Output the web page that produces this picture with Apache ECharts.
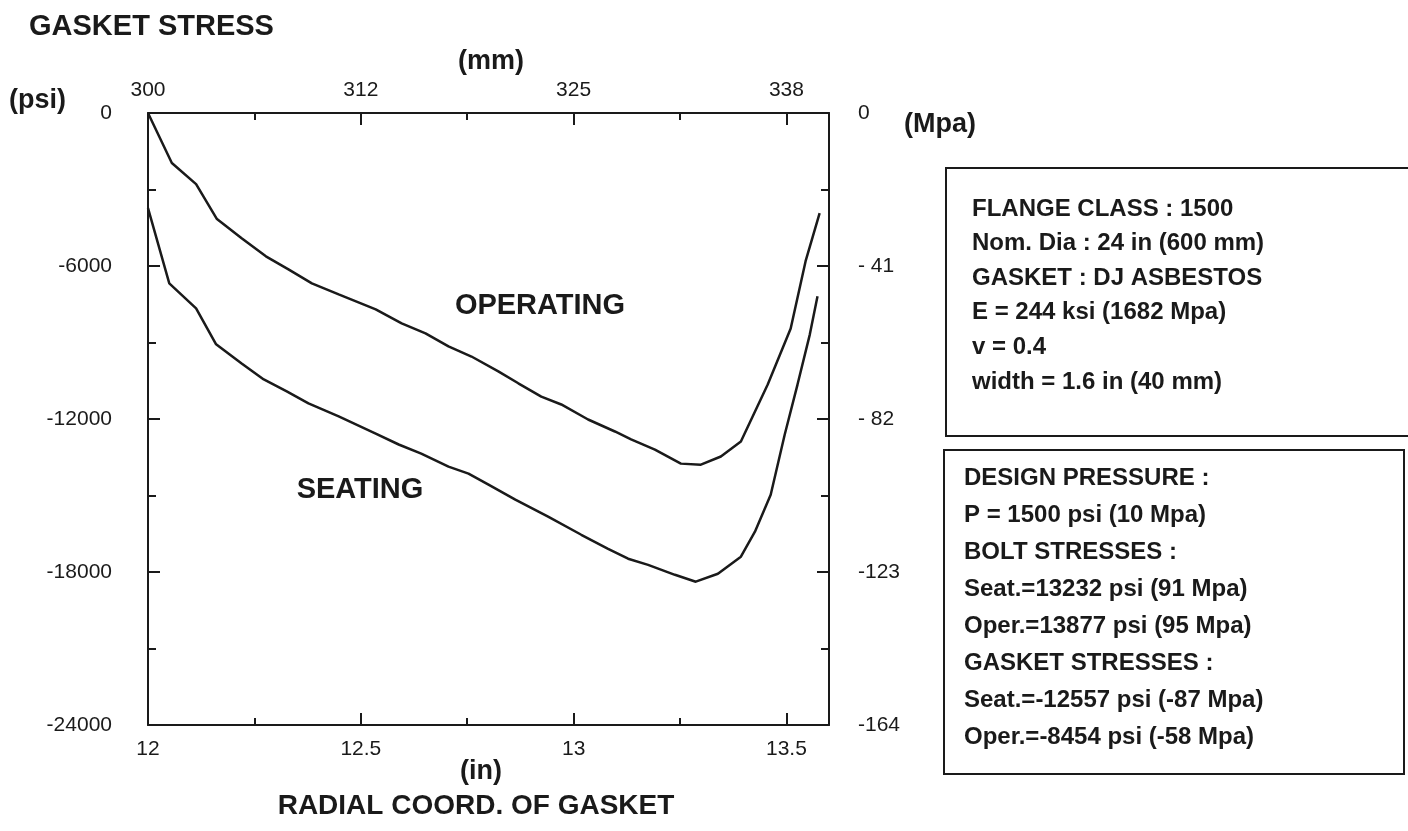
<!DOCTYPE html>
<html>
<head>
<meta charset="utf-8">
<script src="https://cdn.jsdelivr.net/npm/echarts@6/dist/echarts.min.js"></script>
<style>
html,body{margin:0;padding:0;background:#fff;}
#chart{width:1408px;height:831px;}
</style>
</head>
<body>
<div id="chart"></div>
<script>
// ---- Data ----
const operatingX = [12.0, 12.056, 12.113, 12.162, 12.22, 12.277, 12.33, 12.385, 12.448, 12.535, 12.596, 12.652, 12.706, 12.76, 12.823, 12.87, 12.924, 12.971, 13.034, 13.097, 13.135, 13.191, 13.252, 13.299, 13.346, 13.393, 13.456, 13.51, 13.545, 13.578];
const operatingPsi = [0, -1960, -2790, -4160, -4910, -5620, -6130, -6680, -7110, -7700, -8250, -8640, -9150, -9550, -10130, -10600, -11120, -11430, -12020, -12490, -12800, -13200, -13750, -13790, -13470, -12880, -10650, -8450, -5810, -3930];
const seatingX = [12.0, 12.05, 12.113, 12.16, 12.22, 12.272, 12.326, 12.377, 12.448, 12.535, 12.589, 12.642, 12.706, 12.753, 12.8, 12.863, 12.94, 13.018, 13.081, 13.128, 13.175, 13.238, 13.287, 13.339, 13.393, 13.426, 13.463, 13.496, 13.526, 13.555, 13.573];
const seatingPsi = [-3730, -6680, -7660, -9070, -9820, -10450, -10920, -11390, -11900, -12570, -13000, -13360, -13870, -14140, -14570, -15160, -15830, -16540, -17090, -17480, -17720, -18110, -18380, -18070, -17400, -16420, -14970, -12610, -10650, -8680, -7190];

const inchTickLabels = ['12', '12.5', '13', '13.5'];
const mmTickLabels = ['300', '312', '325', '338'];
const mpaTickLabels = ['0', '- 41', '- 82', '-123', '-164'];

const infoBox1 = ['FLANGE CLASS : 1500', 'Nom. Dia : 24 in (600 mm)', 'GASKET : DJ ASBESTOS', 'E = 244 ksi (1682 Mpa)', 'v = 0.4', 'width = 1.6 in (40 mm)'];
const infoBox2 = ['DESIGN PRESSURE :', 'P = 1500 psi (10 Mpa)', 'BOLT STRESSES :', 'Seat.=13232 psi (91 Mpa)', 'Oper.=13877 psi (95 Mpa)', 'GASKET STRESSES :', 'Seat.=-12557 psi (-87 Mpa)', 'Oper.=-8454 psi (-58 Mpa)'];

// ---- Chart ----
const FONT = "'Liberation Sans', Arial, Helvetica, sans-serif";
const INK = '#1a1a1a';
const X_MIN = 12, X_MAX = 13.6;
const chart = echarts.init(document.getElementById('chart'), null, {renderer: 'canvas'});

function zip(xs, ys) { return xs.map((x, i) => [x, ys[i]]); }

const axisLineShown = {show: true, onZero: false, lineStyle: {color: INK, width: 2}};
const axisLineHidden = {show: false, onZero: false};
const tickStyle = {color: INK, width: 2};
const gridBox = {left: 148, right: 579, top: 113, bottom: 106, containLabel: false};

// label index: value 12 -> 0, 12.5 -> 1, ...
function labelIndex(v) {
  const k = (v - X_MIN) / 0.5;
  return Math.abs(k - Math.round(k)) < 1e-6 ? Math.round(k) : -1;
}

function xAxisDef(gridIndex, position, major, labels) {
  return {
    type: 'value', gridIndex: gridIndex, position: position, min: X_MIN, max: X_MAX,
    interval: major ? 0.5 : 0.25,
    axisLine: major ? axisLineShown : axisLineHidden,
    axisTick: {show: true, inside: true, length: major ? 12 : 7, lineStyle: tickStyle},
    axisLabel: labels ? {show: true, showMaxLabel: false,
               formatter: v => { const i = labelIndex(v); return i >= 0 && i < labels.length ? labels[i] : ''; },
               fontFamily: FONT, fontSize: 21, color: INK, margin: position === 'top' ? 12 : 14} : {show: false},
    splitLine: {show: false}
  };
}

const textStyleBold = (size) => ({fontFamily: FONT, fontWeight: 'bold', fontSize: size, fill: INK});

const graphics = [
  {type: 'text', left: 29, top: 12, style: Object.assign({text: 'GASKET STRESS'}, textStyleBold(29))},
  {type: 'text', x: 491, y: 62, style: Object.assign({text: '(mm)', align: 'center', verticalAlign: 'middle'}, textStyleBold(27))},
  {type: 'text', x: 9, y: 101, style: Object.assign({text: '(psi)', align: 'left', verticalAlign: 'middle'}, textStyleBold(27))},
  {type: 'text', x: 904, y: 125, style: Object.assign({text: '(Mpa)', align: 'left', verticalAlign: 'middle'}, textStyleBold(27))},
  {type: 'text', x: 540, y: 306, style: Object.assign({text: 'OPERATING', align: 'center', verticalAlign: 'middle'}, textStyleBold(29))},
  {type: 'text', x: 360, y: 490, style: Object.assign({text: 'SEATING', align: 'center', verticalAlign: 'middle'}, textStyleBold(29))},
  {type: 'text', x: 481, y: 772, style: Object.assign({text: '(in)', align: 'center', verticalAlign: 'middle'}, textStyleBold(27))},
  {type: 'text', x: 476, y: 806, style: Object.assign({text: 'RADIAL COORD. OF GASKET', align: 'center', verticalAlign: 'middle'}, textStyleBold(28))},
  {type: 'rect', shape: {x: 946, y: 168, width: 480, height: 268}, style: {fill: 'none', stroke: INK, lineWidth: 2}},
  {type: 'rect', shape: {x: 944, y: 450, width: 460, height: 324}, style: {fill: 'none', stroke: INK, lineWidth: 2}}
];
infoBox1.forEach((t, i) => {
  graphics.push({type: 'text', x: 972, y: 209 + i * 34.6,
    style: Object.assign({text: t, align: 'left', verticalAlign: 'middle'}, textStyleBold(24))});
});
infoBox2.forEach((t, i) => {
  graphics.push({type: 'text', x: 964, y: 478 + i * 37,
    style: Object.assign({text: t, align: 'left', verticalAlign: 'middle'}, textStyleBold(24))});
});

const option = {
  backgroundColor: '#ffffff',
  animation: false,
  grid: [Object.assign({}, gridBox), Object.assign({}, gridBox)],
  xAxis: [
    xAxisDef(0, 'bottom', true, inchTickLabels),
    xAxisDef(0, 'top', true, mmTickLabels),
    xAxisDef(1, 'bottom', false, null),
    xAxisDef(1, 'top', false, null)
  ],
  yAxis: [
    {
      type: 'value', gridIndex: 0, position: 'left', min: -24000, max: 0, interval: 6000,
      axisLine: axisLineShown,
      axisTick: {show: true, inside: true, length: 12, lineStyle: tickStyle},
      minorTick: {show: true, splitNumber: 2, length: 8, lineStyle: tickStyle},
      axisLabel: {fontFamily: FONT, fontSize: 21, color: INK, margin: 36, formatter: v => String(v)},
      splitLine: {show: false}, minorSplitLine: {show: false}
    },
    {
      type: 'value', gridIndex: 0, position: 'right', min: -24000, max: 0, interval: 6000,
      axisLine: axisLineShown,
      axisTick: {show: true, inside: true, length: 12, lineStyle: tickStyle},
      minorTick: {show: true, splitNumber: 2, length: 8, lineStyle: tickStyle},
      axisLabel: {fontFamily: FONT, fontSize: 21, color: INK, margin: 29, align: 'left',
                  formatter: v => mpaTickLabels[Math.round(-v / 6000)]},
      splitLine: {show: false}, minorSplitLine: {show: false}
    },
    {
      type: 'value', gridIndex: 1, position: 'left', min: -24000, max: 0, show: false
    }
  ],
  series: [
    {name: 'OPERATING', type: 'line', xAxisIndex: 0, yAxisIndex: 0, data: zip(operatingX, operatingPsi),
     showSymbol: false, smooth: false, lineStyle: {color: INK, width: 2.5}},
    {name: 'SEATING', type: 'line', xAxisIndex: 0, yAxisIndex: 0, data: zip(seatingX, seatingPsi),
     showSymbol: false, smooth: false, lineStyle: {color: INK, width: 2.5}}
  ],
  graphic: graphics
};
chart.setOption(option);
</script>
</body>
</html>
